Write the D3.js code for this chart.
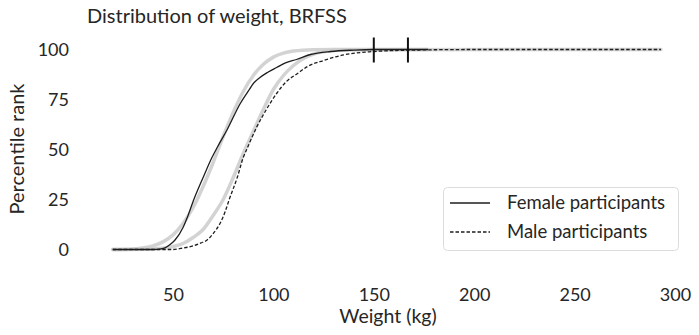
<!DOCTYPE html>
<html>
<head>
<meta charset="utf-8">
<script src="https://cdn.jsdelivr.net/npm/d3@7"></script>
<style>
  html, body { margin: 0; padding: 0; background: #fff; }
  text { font-family: Lato, "Noto Sans", sans-serif; fill: #262626; }
</style>
</head>
<body>
<svg id="chart" width="699" height="335"></svg>
<script>
// ---- data ----
const femaleKg = [20, 40, 44, 46, 48.5, 51, 55, 57.5, 60, 65, 69.4, 72, 77, 83.5, 88, 90, 93.3, 97, 101.6, 106, 111.5, 118.5, 128.5, 140, 150, 177];
const femalePr = [0, 0, 0.3, 0.8, 2.5, 4.75, 11, 17, 24, 36, 46, 51, 60, 73, 80, 83, 86, 88.5, 91, 93.3, 95, 97.5, 99, 99.7, 100, 100];
const maleKg = [20, 50, 55, 60, 64, 67, 70, 73.4, 76, 78, 82, 85, 86.7, 91.6, 96.5, 101.6, 106.5, 112, 117, 125, 135, 150, 165, 200, 293];
const malePr = [0, 0, 0.7, 1.8, 3.3, 4.75, 8, 13, 19, 25, 36, 46, 50, 61, 70, 78, 84, 88, 91.5, 94.5, 97.3, 99, 99.6, 100, 100];
const femaleModelKg = [20, 30, 40, 45, 50, 55, 60, 65, 70, 75, 80, 85, 90, 95, 100, 105, 110, 120, 130, 177];
const femaleModelPr = [0, 0.3, 1.8, 3.8, 7.3, 13, 21, 31.5, 43.5, 56.5, 68.5, 79, 87, 92.6, 96.2, 98.2, 99.2, 99.9, 100, 100];
const maleModelKg = [20, 40, 45, 50, 55, 60, 65, 70, 75, 80, 85, 90, 95, 100, 105, 110, 115, 120, 130, 140, 293];
const maleModelPr = [0, 0.3, 0.6, 1.5, 3, 6, 10, 17, 25, 36, 48, 59, 70, 80, 87, 92, 95.5, 97.7, 99.5, 99.9, 100];
const markerKg = [150, 167];
const xTicks = [50, 100, 150, 200, 250, 300];
const yTicks = [0, 25, 50, 75, 100];
const seriesLabels = ["Female participants", "Male participants"];
const titleText = "Distribution of weight, BRFSS";
const xLabel = "Weight (kg)";
const yLabel = "Percentile rank";

// ---- layout ----
const svg = d3.select("#chart");
const x = d3.scaleLinear().domain([0, 300]).range([72.6, 675]);
const y = d3.scaleLinear().domain([0, 100]).range([249.5, 49.5]);

const line = d3.line().x(d => x(d[0])).y(d => y(d[1])).curve(d3.curveMonotoneX);
const pairs = (a, b) => a.map((v, i) => [v, b[i]]);

// model (grey) curves
[[femaleModelKg, femaleModelPr], [maleModelKg, maleModelPr]].forEach(([k, p]) => {
  svg.append("path").attr("d", line(pairs(k, p)))
    .attr("fill", "none").attr("stroke", "#cbcbcb").attr("stroke-opacity", 0.85)
    .attr("stroke-width", 3.5).attr("stroke-linecap", "round");
});

// data curves
svg.append("path").attr("d", line(pairs(femaleKg, femalePr)))
  .attr("fill", "none").attr("stroke", "#1e1e1e").attr("stroke-width", 1.3);
svg.append("path").attr("d", line(pairs(maleKg, malePr)))
  .attr("fill", "none").attr("stroke", "#1e1e1e").attr("stroke-width", 1.3)
  .attr("stroke-dasharray", "3.5,2");

// vertical markers
svg.selectAll("line.marker").data(markerKg).enter().append("line")
  .attr("class", "marker")
  .attr("x1", d => x(d)).attr("x2", d => x(d))
  .attr("y1", y(100) - 12).attr("y2", y(100) + 13)
  .attr("stroke", "#111").attr("stroke-width", 2);

// axes (labels only)
const xAxis = svg.append("g").attr("transform", "translate(0,288)")
  .call(d3.axisBottom(x).tickValues(xTicks).tickSize(0).tickPadding(0));
xAxis.select(".domain").remove();
xAxis.selectAll("text").attr("font-size", 18).attr("font-family", "Lato, sans-serif").attr("fill", "#262626");

const yAxis = svg.append("g").attr("transform", "translate(69,0)")
  .call(d3.axisLeft(y).tickValues(yTicks).tickSize(0).tickPadding(0));
yAxis.select(".domain").remove();
yAxis.selectAll("text").attr("font-size", 18).attr("font-family", "Lato, sans-serif").attr("fill", "#262626");

// titles
svg.append("text").attr("x", 87).attr("y", 23).attr("font-size", 20).text(titleText);
svg.append("text").attr("x", 388).attr("y", 323).attr("text-anchor", "middle").attr("font-size", 19.5).text(xLabel);
svg.append("text").attr("transform", "translate(24,149) rotate(-90)").attr("text-anchor", "middle")
  .attr("font-size", 20).text(yLabel);

// legend
const lg = svg.append("g");
lg.append("rect").attr("x", 443.5).attr("y", 187.5).attr("width", 235).attr("height", 63)
  .attr("rx", 4).attr("fill", "#fff").attr("fill-opacity", 0.8).attr("stroke", "#dcdcdc");
seriesLabels.forEach((s, i) => {
  const yy = 203 + i * 29;
  lg.append("line").attr("x1", 450).attr("x2", 490).attr("y1", yy).attr("y2", yy)
    .attr("stroke", "#1e1e1e").attr("stroke-width", 1.3)
    .attr("stroke-dasharray", i === 1 ? "3.5,2" : null);
  lg.append("text").attr("x", 507).attr("y", yy + 6).attr("font-size", 18.5).text(s);
});
</script>
</body>
</html>
